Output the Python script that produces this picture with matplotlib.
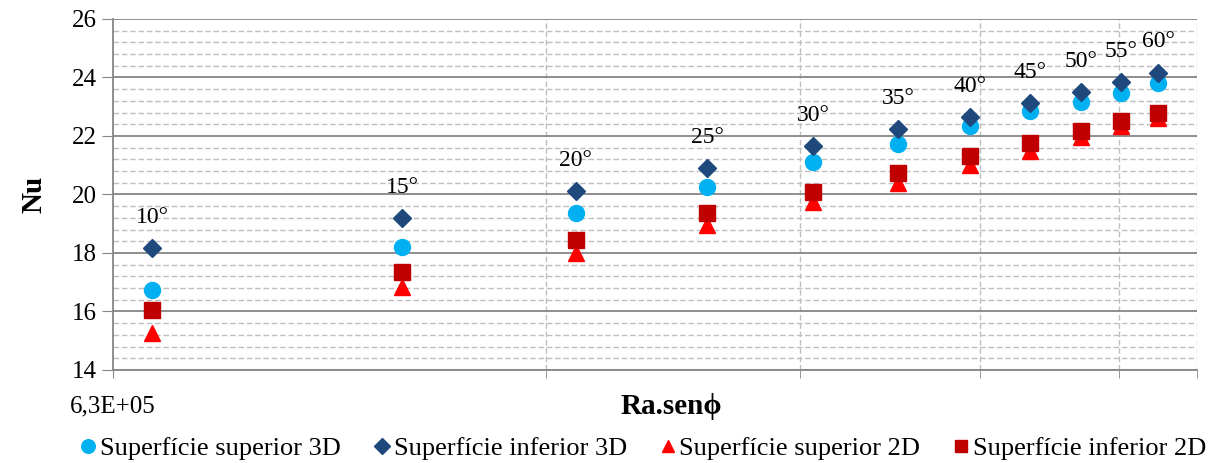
import matplotlib
matplotlib.use('Agg')
import matplotlib.pyplot as plt
from matplotlib.ticker import FixedLocator, FixedFormatter, MultipleLocator, NullFormatter

plt.rcParams['font.family'] = ['Liberation Serif', 'DejaVu Serif']

# data
angles = ['10°', '15°', '20°', '25°', '30°', '35°', '40°', '45°', '50°', '55°', '60°']
ra_sen = [6.71e5, 1.00e6, 1.32e6, 1.63e6, 1.93e6, 2.21e6, 2.48e6, 2.73e6, 2.96e6, 3.16e6, 3.35e6]
sup_3d = [16.72, 18.22, 19.36, 20.27, 21.11, 21.73, 22.34, 22.87, 23.16, 23.48, 23.82]
inf_3d = [18.17, 19.20, 20.13, 20.91, 21.66, 22.23, 22.66, 23.14, 23.50, 23.85, 24.17]
sup_2d = [15.25, 16.83, 17.99, 18.95, 19.74, 20.40, 21.02, 21.50, 21.95, 22.35, 22.62]
inf_2d = [16.05, 17.35, 18.44, 19.36, 20.10, 20.75, 21.32, 21.75, 22.18, 22.52, 22.80]

x_min, x_max = 6.3e5, 3.566e6
x_minor = [1.26e6, 1.89e6, 2.52e6, 3.15e6, 3.566e6]

fig = plt.figure(figsize=(12.24, 4.63), dpi=100)
ax = fig.add_axes([0.0923, 0.2009, 0.8857, 0.7581])

ax.plot(ra_sen, sup_3d, 'o', color='#00B0F0', ms=11.5, ls='none', label='Superfície superior 3D')
ax.plot(ra_sen, inf_3d, 'D', color='#1F497D', ms=9.5, ls='none', label='Superfície inferior 3D')
ax.plot(ra_sen, sup_2d, '^', color='#FF0000', ms=11, ls='none', label='Superfície superior 2D')
ax.plot(ra_sen, inf_2d, 's', color='#C00000', ms=11, ls='none', label='Superfície inferior 2D')

for a, x, y in zip(angles, ra_sen, inf_3d):
    ax.annotate(a, (x, y), xytext=(0, 22), textcoords='offset points',
                ha='center', va='center', fontsize=17)

ax.set_xscale('log')
ax.set_xlim(x_min, x_max)
ax.set_ylim(14, 26)
ax.xaxis.set_major_locator(FixedLocator([x_min]))
ax.xaxis.set_major_formatter(FixedFormatter(['6,3E+05']))
ax.xaxis.set_minor_locator(FixedLocator(x_minor))
ax.xaxis.set_minor_formatter(NullFormatter())
ax.yaxis.set_major_locator(MultipleLocator(2))
ax.yaxis.set_minor_locator(MultipleLocator(0.4))

ax.grid(which='major', axis='y', color='#868686', lw=1.3, ls='-')
ax.grid(which='minor', axis='both', color='#BFBFBF', lw=1.0, ls=(0, (4, 2)))
ax.set_axisbelow(True)

for s in ['top', 'right']:
    ax.spines[s].set_visible(False)
for s in ['left', 'bottom']:
    ax.spines[s].set_color('#868686')
    ax.spines[s].set_linewidth(1.3)

ax.tick_params(axis='y', which='major', direction='out', length=8, color='#868686', labelsize=18)
ax.tick_params(axis='y', which='minor', length=0)
ax.tick_params(axis='x', which='both', direction='out', length=6, color='#868686', labelsize=18, pad=12)

ax.set_xlabel('Ra.senϕ', fontsize=21, fontweight='bold')
ax.set_ylabel('Nu', fontsize=21, fontweight='bold', labelpad=18)
ax.xaxis.set_label_coords(0.515, -0.065)

fig.legend(loc='lower center', bbox_to_anchor=(0.525, -0.045), ncol=4, frameon=False,
           fontsize=19, handlelength=0.7, handletextpad=0.1, columnspacing=1.2, markerscale=0.85)

fig.savefig('out.png', dpi=100)
